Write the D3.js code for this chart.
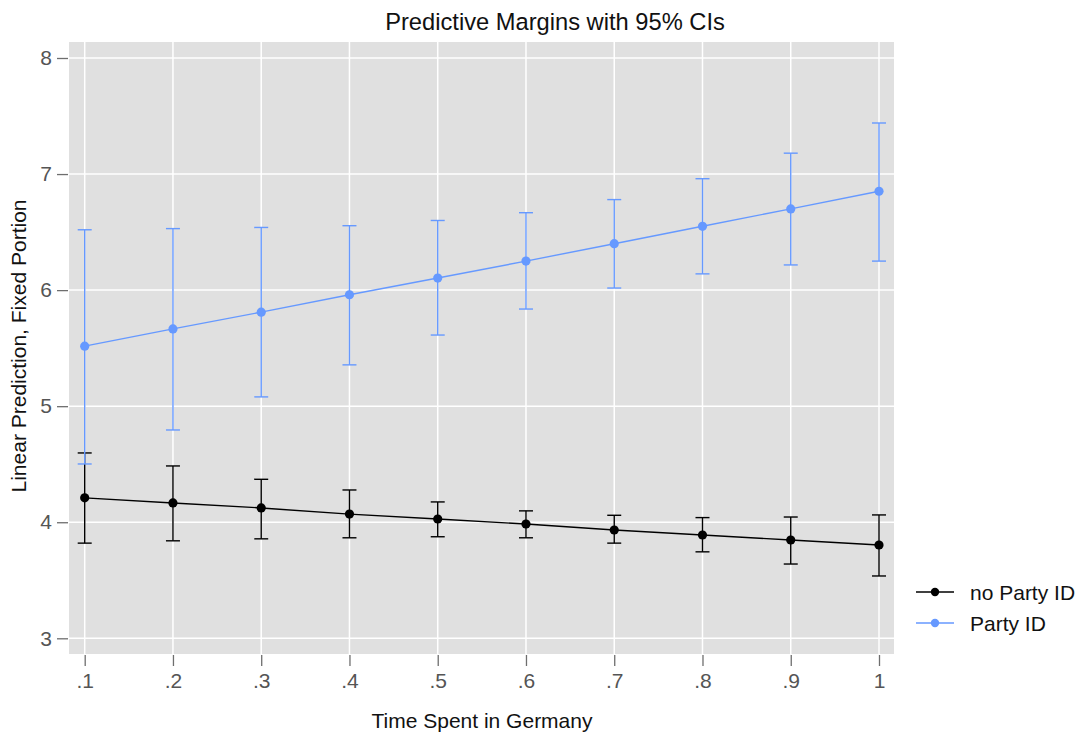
<!DOCTYPE html>
<html>
<head>
<meta charset="utf-8">
<script src="https://cdn.jsdelivr.net/npm/d3@7"></script>
<style>
  html, body { margin: 0; padding: 0; background: #fff; }
  text { font-family: "Liberation Sans", Arial, sans-serif; }
</style>
</head>
<body>
<svg id="chart" width="1078" height="733"></svg>
<script>
// Time spent in Germany (x values)
const xValues = [0.1, 0.2, 0.3, 0.4, 0.5, 0.6, 0.7, 0.8, 0.9, 1.0];
const xTickLabels = [".1", ".2", ".3", ".4", ".5", ".6", ".7", ".8", ".9", "1"];
const yTicks = [3, 4, 5, 6, 7, 8];

// Predictive margins and 95% confidence limits
const noPartyMean  = [4.21, 4.166, 4.123, 4.07, 4.028, 3.985, 3.933, 3.89, 3.847, 3.804];
const noPartyLower = [3.82, 3.84, 3.857, 3.866, 3.875, 3.866, 3.82, 3.745, 3.64, 3.537];
const noPartyUpper = [4.597, 4.485, 4.37, 4.278, 4.175, 4.098, 4.06, 4.04, 4.045, 4.063];

const partyMean  = [5.517, 5.666, 5.81, 5.96, 6.104, 6.25, 6.40, 6.55, 6.70, 6.852];
const partyLower = [4.502, 4.795, 5.08, 5.356, 5.613, 5.837, 6.018, 6.14, 6.217, 6.25];
const partyUpper = [6.52, 6.53, 6.54, 6.555, 6.60, 6.667, 6.78, 6.96, 7.18, 7.44];

const seriesNames = ["no Party ID", "Party ID"];
const seriesColors = ["#000000", "#6699ff"];

const svg = d3.select("#chart");

const panel = { left: 69, right: 894, top: 42, bottom: 654 };

const x = d3.scaleLinear().domain([0.1, 1.0]).range([84.7, 879]);
const y = d3.scaleLinear().domain([3, 8]).range([638.3, 58]);

// Plot region background
svg.append("rect")
  .attr("x", panel.left).attr("y", panel.top)
  .attr("width", panel.right - panel.left)
  .attr("height", panel.bottom - panel.top)
  .attr("fill", "#e0e0e0");

// Gridlines
const grid = svg.append("g");
grid.selectAll("line.gx").data(xValues).join("line")
  .attr("x1", d => x(d)).attr("x2", d => x(d))
  .attr("y1", panel.top).attr("y2", panel.bottom)
  .attr("stroke", "#ffffff").attr("stroke-width", 1.5);
grid.selectAll("line.gy").data(yTicks).join("line")
  .attr("y1", d => y(d)).attr("y2", d => y(d))
  .attr("x1", panel.left).attr("x2", panel.right)
  .attr("stroke", "#ffffff").attr("stroke-width", 1.5);

// Axes
const xAxis = d3.axisBottom(x)
  .tickValues(xValues)
  .tickFormat((d, i) => xTickLabels[i])
  .tickSize(11).tickPadding(7);
const xg = svg.append("g").attr("transform", `translate(0,${panel.bottom + 1})`).call(xAxis);
xg.select(".domain").remove();
xg.selectAll(".tick line").attr("stroke", "#6e6e6e").attr("stroke-width", 1.3);
xg.selectAll(".tick text").attr("fill", "#555").style("font-size", "21px")
  .style("font-family", "Liberation Sans, Arial, sans-serif");

const yAxis = d3.axisLeft(y)
  .tickValues(yTicks)
  .tickFormat(d3.format("d"))
  .tickSize(11).tickPadding(5);
const yg = svg.append("g").attr("transform", `translate(${panel.left - 1},0)`).call(yAxis);
yg.select(".domain").remove();
yg.selectAll(".tick line").attr("stroke", "#6e6e6e").attr("stroke-width", 1.3);
yg.selectAll(".tick text").attr("fill", "#555").style("font-size", "21px")
  .style("font-family", "Liberation Sans, Arial, sans-serif");

// Series drawing
const series = [
  { name: seriesNames[0], color: seriesColors[0], mean: noPartyMean, lo: noPartyLower, hi: noPartyUpper },
  { name: seriesNames[1], color: seriesColors[1], mean: partyMean, lo: partyLower, hi: partyUpper }
];

const capHalf = 7;
series.forEach(s => {
  const pts = xValues.map((xv, i) => ({ x: xv, m: s.mean[i], lo: s.lo[i], hi: s.hi[i] }));
  const g = svg.append("g");
  // CI whiskers
  g.selectAll("line.ci").data(pts).join("line")
    .attr("x1", d => x(d.x)).attr("x2", d => x(d.x))
    .attr("y1", d => y(d.lo)).attr("y2", d => y(d.hi))
    .attr("stroke", s.color).attr("stroke-width", 1.4);
  g.selectAll("line.caphi").data(pts).join("line")
    .attr("x1", d => x(d.x) - capHalf).attr("x2", d => x(d.x) + capHalf)
    .attr("y1", d => y(d.hi)).attr("y2", d => y(d.hi))
    .attr("stroke", s.color).attr("stroke-width", 1.4);
  g.selectAll("line.caplo").data(pts).join("line")
    .attr("x1", d => x(d.x) - capHalf).attr("x2", d => x(d.x) + capHalf)
    .attr("y1", d => y(d.lo)).attr("y2", d => y(d.lo))
    .attr("stroke", s.color).attr("stroke-width", 1.4);
  // Connecting line
  g.append("path").datum(pts)
    .attr("d", d3.line().x(d => x(d.x)).y(d => y(d.m)))
    .attr("fill", "none").attr("stroke", s.color).attr("stroke-width", 1.4);
  // Markers
  g.selectAll("circle").data(pts).join("circle")
    .attr("cx", d => x(d.x)).attr("cy", d => y(d.m)).attr("r", 4.6)
    .attr("fill", s.color);
});

// Title
svg.append("text")
  .attr("x", 555).attr("y", 30)
  .attr("text-anchor", "middle")
  .style("font-size", "23.7px").attr("fill", "#111")
  .text("Predictive Margins with 95% CIs");

// Axis titles
svg.append("text")
  .attr("x", 482).attr("y", 728)
  .attr("text-anchor", "middle")
  .style("font-size", "21px").attr("fill", "#111")
  .text("Time Spent in Germany");

svg.append("text")
  .attr("transform", "translate(26,346) rotate(-90)")
  .attr("text-anchor", "middle")
  .style("font-size", "21px").attr("fill", "#111")
  .text("Linear Prediction, Fixed Portion");

// Legend
const legend = svg.append("g");
const legendY = [592, 623];
series.forEach((s, i) => {
  legend.append("line")
    .attr("x1", 916).attr("x2", 954)
    .attr("y1", legendY[i]).attr("y2", legendY[i])
    .attr("stroke", s.color).attr("stroke-width", 1.4);
  legend.append("circle")
    .attr("cx", 935).attr("cy", legendY[i]).attr("r", 4.2)
    .attr("fill", s.color);
  legend.append("text")
    .attr("x", 970).attr("y", legendY[i] + 7.5)
    .style("font-size", "21px").attr("fill", "#111")
    .text(s.name);
});
</script>
</body>
</html>
